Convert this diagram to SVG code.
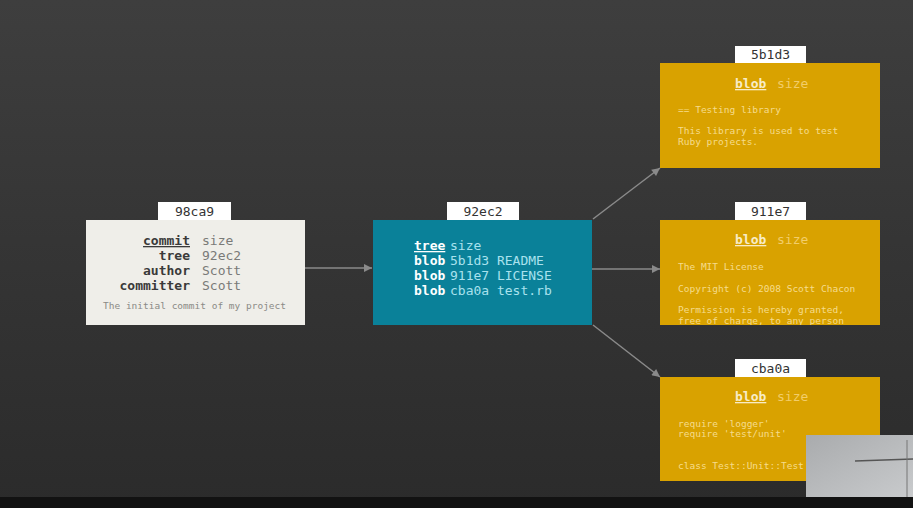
<svg xmlns="http://www.w3.org/2000/svg" width="913" height="508" viewBox="0 0 913 508">
<defs>
<linearGradient id="bg" x1="0" y1="0" x2="0" y2="1">
<stop offset="0" stop-color="#3e3e3e"/>
<stop offset="1" stop-color="#2b2b2b"/>
</linearGradient>
<linearGradient id="cam" x1="0" y1="0" x2="1" y2="1">
<stop offset="0" stop-color="#a9abad"/>
<stop offset="1" stop-color="#c9cbcd"/>
</linearGradient>
<marker id="ah" viewBox="0 0 10 10" refX="10" refY="5" markerWidth="10" markerHeight="8" markerUnits="userSpaceOnUse" orient="auto">
<path d="M0,0 L10,5 L0,10 z" fill="#8a8a8a"/>
</marker>
<clipPath id="c2"><rect x="660" y="220" width="220" height="105"/></clipPath>
</defs>
<style>
text{font-family:"DejaVu Sans Mono","Liberation Mono",monospace;}
.tab{fill:#ffffff;}
.tabt{font-size:13px;fill:#333333;text-anchor:middle;}
.ck{font-size:13px;font-weight:bold;fill:#3a3a3a;text-anchor:end;}
.cv{font-size:13px;fill:#7a7a78;}
.cs{font-size:9.5px;fill:#8a8a86;}
.tk{font-size:13px;font-weight:bold;fill:#ffffff;}
.tv{font-size:13px;fill:#a9e2ee;}
.bk{font-size:13px;font-weight:bold;fill:#f8ecc6;}
.bv{font-size:13px;fill:#f2cd6a;}
.bs{font-size:9.5px;fill:#f6dc8c;}
.u{text-decoration:underline;}
.edge{stroke:#8a8a8a;stroke-width:1.5;fill:none;marker-end:url(#ah);}
</style>
<rect width="913" height="508" fill="url(#bg)"/>

<g id="connectors">
<line class="edge" x1="305" y1="268" x2="372" y2="268"/>
<line class="edge" x1="593" y1="219" x2="660" y2="168"/>
<line class="edge" x1="592" y1="269" x2="660" y2="269"/>
<line class="edge" x1="593" y1="325" x2="660" y2="377"/>
</g>

<g id="commit-98ca9">
<rect class="tab" x="158" y="202" width="73" height="18"/>
<text class="tabt" x="194.5" y="216">98ca9</text>
<rect x="86" y="220" width="219" height="105" fill="#efeee9"/>
<text class="ck u" x="190" y="245">commit</text>
<text class="cv" x="202" y="245">size</text>
<text class="ck" x="190" y="260">tree</text>
<text class="cv" x="202" y="260">92ec2</text>
<text class="ck" x="190" y="275">author</text>
<text class="cv" x="202" y="275">Scott</text>
<text class="ck" x="190" y="290">committer</text>
<text class="cv" x="202" y="290">Scott</text>
<text class="cs" x="103" y="309">The initial commit of my project</text>
</g>

<g id="tree-92ec2">
<rect class="tab" x="447" y="202" width="72" height="18"/>
<text class="tabt" x="483" y="216">92ec2</text>
<rect x="373" y="220" width="219" height="105" fill="#0a8199"/>
<text class="tk u" x="414" y="250">tree</text>
<text class="tv" x="450" y="250">size</text>
<text class="tk" x="414" y="265">blob</text>
<text class="tv" x="450" y="265">5b1d3 README</text>
<text class="tk" x="414" y="280">blob</text>
<text class="tv" x="450" y="280">911e7 LICENSE</text>
<text class="tk" x="414" y="295">blob</text>
<text class="tv" x="450" y="295">cba0a test.rb</text>
</g>

<g id="blob-5b1d3">
<rect class="tab" x="735" y="46" width="71" height="17"/>
<text class="tabt" x="770.5" y="59">5b1d3</text>
<rect x="660" y="63" width="220" height="105" fill="#d9a200"/>
<text class="bk u" x="735" y="88">blob</text>
<text class="bv" x="777" y="88">size</text>
<text class="bs" x="678" y="113">== Testing library</text>
<text class="bs" x="678" y="134">This library is used to test</text>
<text class="bs" x="678" y="145">Ruby projects.</text>
</g>

<g id="blob-911e7">
<rect class="tab" x="735" y="202" width="71" height="18"/>
<text class="tabt" x="770.5" y="216">911e7</text>
<rect x="660" y="220" width="220" height="105" fill="#d9a200"/>
<text class="bk u" x="735" y="244">blob</text>
<text class="bv" x="777" y="244">size</text>
<g clip-path="url(#c2)">
<text class="bs" x="678" y="270">The MIT License</text>
<text class="bs" x="678" y="292">Copyright (c) 2008 Scott Chacon</text>
<text class="bs" x="678" y="313">Permission is hereby granted,</text>
<text class="bs" x="678" y="324">free of charge, to any person</text>
</g>
</g>

<g id="blob-cba0a">
<rect class="tab" x="735" y="359" width="71" height="18"/>
<text class="tabt" x="770.5" y="373">cba0a</text>
<rect x="660" y="377" width="220" height="104" fill="#d9a200"/>
<text class="bk u" x="735" y="401">blob</text>
<text class="bv" x="777" y="401">size</text>
<text class="bs" x="678" y="427">require 'logger'</text>
<text class="bs" x="678" y="437">require 'test/unit'</text>
<text class="bs" x="678" y="469">class Test::Unit::Test</text>
</g>

<rect x="806" y="435" width="107" height="63" fill="url(#cam)"/>
<line x1="855" y1="461" x2="913" y2="459" stroke="#555" stroke-width="1.5"/>
<line x1="907" y1="440" x2="907" y2="498" stroke="#777" stroke-width="1"/>
<rect x="0" y="497" width="913" height="11" fill="#121212"/>
</svg>
